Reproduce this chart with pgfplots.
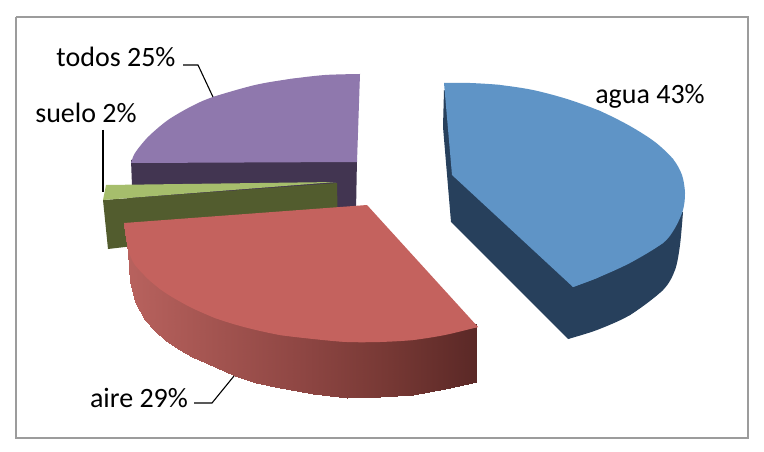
\documentclass[border=0pt]{standalone}
\usepackage{pgfplots}
\pgfplotsset{compat=1.18}
\usepackage{fontspec}
\setmainfont{Carlito}

\definecolor{aguatop}{HTML}{5F94C6}
\definecolor{aguaside}{HTML}{27405C}
\definecolor{airetop}{HTML}{C4625E}
\definecolor{suelotop}{HTML}{A6BE6C}
\definecolor{sueloside}{HTML}{525C2E}
\definecolor{todostop}{HTML}{8F78AD}
\definecolor{todosside}{HTML}{423551}
\definecolor{marco}{HTML}{9C9C9C}

\tikzset{etiqueta/.style={font=\fontsize{28}{32}\selectfont, text=black, inner sep=0pt, anchor=base}}

\begin{document}
\begin{tikzpicture}
\begin{axis}[
    scale only axis, width=764pt, height=452pt,
    xmin=0, xmax=764, ymin=0, ymax=452, y dir=reverse,
    hide axis, clip=false,
    colormap={ladoaire}{rgb255=(184,98,94) rgb255=(163,84,80) rgb255=(142,70,67) rgb255=(118,56,52) rgb255=(90,40,38)},
    arco/.style={draw=none, smooth, tension=0.5, no markers},
]
% fondo y marco
\addplot[draw=none, fill=white] coordinates {(0,0) (764,0) (764,452) (0,452)} -- cycle;
\addplot[marco, line width=1.8pt] coordinates {(16,17) (748,17) (748,438) (16,438) (16,17)};

% todos
\addplot[draw=none, fill=todosside] coordinates {(131,160) (357,158) (356,212) (133,212)} -- cycle;
\addplot[draw=none, fill=todostop] coordinates {(360,74) (290,79) (213,97) (148,137) (131,163) (357,162)} -- cycle;
\addplot[arco, fill=todostop] coordinates {(360,74) (325,75) (290,79) (255,85) (213,97) (192,106) (168,120) (148,137) (135,153) (131,163)};

% suelo
\addplot[draw=none, fill=sueloside] coordinates {(103,200) (337,183) (338,235) (125,247) (108,249)} -- cycle;
\addplot[draw=none, fill=suelotop] coordinates {(106,185) (336,182) (103,200)} -- cycle;

% aire: el borde superior de las tiras queda bajo la cara
\addplot[patch, patch type=rectangle, shader=interp, point meta=x, point meta min=127, point meta max=478] coordinates {
    (124,225) (132,250) (130,282) (128,252)
    (132,250) (137,260) (135,302) (130,282)
    (137,260) (147,272) (145,320) (135,302)
    (147,272) (157,281) (155,331) (145,320)
    (157,281) (167,287) (165,340) (155,331)
    (167,287) (180,295) (178,349) (165,340)
    (180,295) (192,304) (192,357) (178,349)
    (192,304) (215,314) (215,367) (192,357)
    (215,314) (235,320) (235,376) (215,367)
    (235,320) (256,326) (256,383) (235,376)
    (256,326) (280,331) (280,388) (256,383)
    (280,331) (313,335) (313,394) (280,388)
    (313,335) (347,338) (347,398) (313,394)
    (347,338) (380,338) (380,397) (347,398)
    (380,338) (413,336) (413,395) (380,397)
    (413,336) (445,331) (445,389) (413,395)
    (445,331) (477,323) (477,382) (445,389)
};
\addplot[draw=none, fill=airetop] coordinates {(124,223) (367,205) (478,327) (413,340) (347,342) (280,335) (215,318) (160,289) (135,265) (127,243)} -- cycle;
\addplot[arco, fill=airetop] coordinates {(478,327) (445,335) (413,340) (380,342) (347,342) (313,339)
    (280,335) (256,330) (235,324.5) (215,318) (192,308) (172,297) (160,289) (148,279) (135,265) (130,255) (127,243)};

% agua
\addplot[draw=none, fill=aguaside] coordinates {(444,90) (443,127) (451,222) (568,339) (630,315) (663,290) (683,212) (600,200)} -- cycle;
\addplot[arco, fill=aguaside] coordinates {(568,339) (597,330) (630,315) (663,290) (675,270) (680,245) (683,212)};
\addplot[draw=none, fill=aguatop] coordinates {(444,83) (500,85) (600,111) (673,159) (685,193) (663,243) (597,278) (573,287) (452,175)} -- cycle;
\addplot[arco, fill=aguatop] coordinates {(444,83) (470,83) (500,85) (533,90) (567,99) (600,111) (630,126) (655,142) (673,159) (682,175) (685,193) (683,210) (675,228) (663,243)
    (630,263) (597,278) (573,287)};

% lineas guia
\addplot[black, line width=1.1pt] coordinates {(183,65) (198,65) (213,97)};
\addplot[black, line width=1.1pt] coordinates {(103,130) (103,192)};
\addplot[black, line width=1.1pt] coordinates {(194,403) (212,403) (234,376)};

% etiquetas
\node[etiqueta] at (axis cs:116,67) {todos 25\%};
\node[etiqueta] at (axis cs:86,123) {suelo 2\%};
\node[etiqueta] at (axis cs:650,103) {agua 43\%};
\node[etiqueta] at (axis cs:139,407) {aire 29\%};
\end{axis}
\end{tikzpicture}
\end{document}
